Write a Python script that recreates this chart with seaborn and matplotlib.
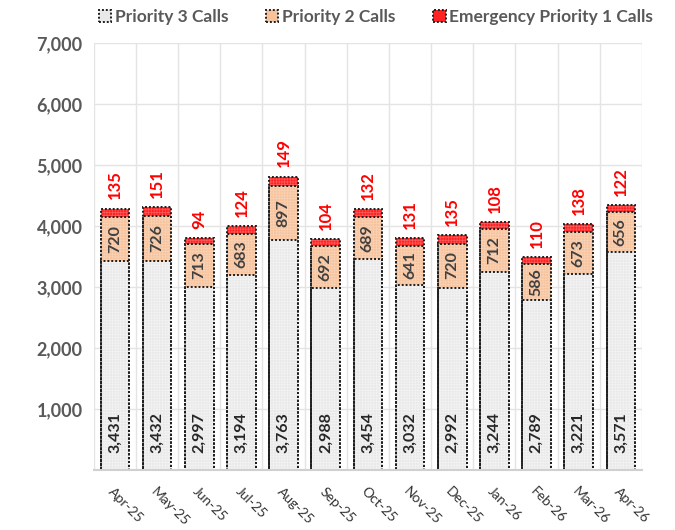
import pandas as pd
import matplotlib
matplotlib.use("Agg")
from matplotlib import pyplot as plt
from matplotlib.patches import Patch
import seaborn as sns

months = ["Apr-25", "May-25", "Jun-25", "Jul-25", "Aug-25", "Sep-25", "Oct-25",
          "Nov-25", "Dec-25", "Jan-26", "Feb-26", "Mar-26", "Apr-26"]
p3_calls = [3431, 3432, 2997, 3194, 3763, 2988, 3454, 3032, 2992, 3244, 2789, 3221, 3571]
p2_calls = [720, 726, 713, 683, 897, 692, 689, 641, 720, 712, 586, 673, 656]
p1_calls = [135, 151, 94, 124, 149, 104, 132, 131, 135, 108, 110, 138, 122]

df = pd.DataFrame({"Month": months, "P3": p3_calls, "P2": p2_calls, "P1": p1_calls})
df["P3P2"] = df["P3"] + df["P2"]
df["Total"] = df["P3P2"] + df["P1"]

sns.set_style("white")
plt.rcParams["font.family"] = ["Lato", "DejaVu Sans"]
plt.rcParams["hatch.linewidth"] = 0.5

fig = plt.figure(figsize=(6.75, 5.30), dpi=100)
ax = fig.add_axes([0.139, 0.113, 0.812, 0.806])

c_p3, c_p2, c_p1 = "#e9e9e9", "#f7c39d", "#ff2222"
h_p3, h_p2, h_p1 = "#f3f3f3", "#f9d2b6", "#ff5a5a"
edge = dict(edgecolor="#1e1e1e", linewidth=1.4, linestyle=(0, (1, 1)))

# stacked look: draw cumulative totals, largest first (fill + light texture)
layers = [("Total", c_p1, h_p1), ("P3P2", c_p2, h_p2), ("P3", c_p3, h_p3)]
for col, fc, hc in layers:
    sns.barplot(data=df, x="Month", y=col, color=fc, saturation=1, width=0.68, ax=ax,
                edgecolor=hc, linewidth=0, hatch="+" * 6)

# dotted outlines on top of every segment
for col, fc, hc in layers:
    n_before = len(ax.patches)
    sns.barplot(data=df, x="Month", y=col, color=fc, saturation=1, width=0.68, ax=ax)
    for p in ax.patches[n_before:]:
        p.set_facecolor("none")
        p.set_edgecolor(edge["edgecolor"])
        p.set_linewidth(edge["linewidth"])
        p.set_linestyle(edge["linestyle"])

for i, row in df.iterrows():
    ax.text(i, 620, f"{row.P3:,}", rotation=90, ha="center", va="center",
            fontsize=11.5, fontweight="bold", color="#262626")
    ax.text(i, row.P3 + row.P2 / 2, f"{row.P2:,}", rotation=90, ha="center", va="center",
            fontsize=11.5, fontweight="bold", color="#404040")
    ax.text(i, row.Total + 150, f"{row.P1:,}", rotation=90, ha="center", va="bottom",
            fontsize=12, fontweight="bold", color="#ff0000")

ax.set_xlim(-0.5, len(months) - 0.5)
ax.set_ylim(0, 7000)
ax.set_yticks(range(1000, 8000, 1000))
ax.set_yticklabels([f"{v:,}" for v in range(1000, 8000, 1000)],
                   fontsize=13, fontweight="bold", color="#595959")
ax.set_xticks(range(len(months)))
ax.set_xticklabels(months, rotation=-45, ha="left", rotation_mode="anchor",
                   fontsize=10, color="#333333")
ax.tick_params(axis="y", length=0, pad=8)
ax.tick_params(axis="x", length=0, pad=11)
ax.set_xlabel("")
ax.set_ylabel("")

# grid: horizontal at ticks, vertical at category boundaries
for y in range(1000, 8000, 1000):
    ax.axhline(y, color="#e4e4e4", lw=1, zorder=0)
for x in range(len(months) + 1):
    ax.axvline(x - 0.5, color="#e4e4e4", lw=1, zorder=0)
ax.set_axisbelow(True)

for s in ["top", "right", "left"]:
    ax.spines[s].set_visible(False)
ax.spines["bottom"].set_color("#d0d0d0")
ax.spines["bottom"].set_linewidth(1.5)

handles = [Patch(facecolor=c, **edge) for c in (c_p3, c_p2, c_p1)]
fig.legend(handles, ["Priority 3 Calls", "Priority 2 Calls", "Emergency Priority 1 Calls"],
           loc="upper center", bbox_to_anchor=(0.557, 1.012), ncol=3, frameon=False,
           handlelength=0.7, handleheight=0.7, handletextpad=0.2, columnspacing=2.2,
           prop={"size": 12.5, "weight": "bold"}, labelcolor="#595959")

plt.savefig("out.png", dpi=100)
